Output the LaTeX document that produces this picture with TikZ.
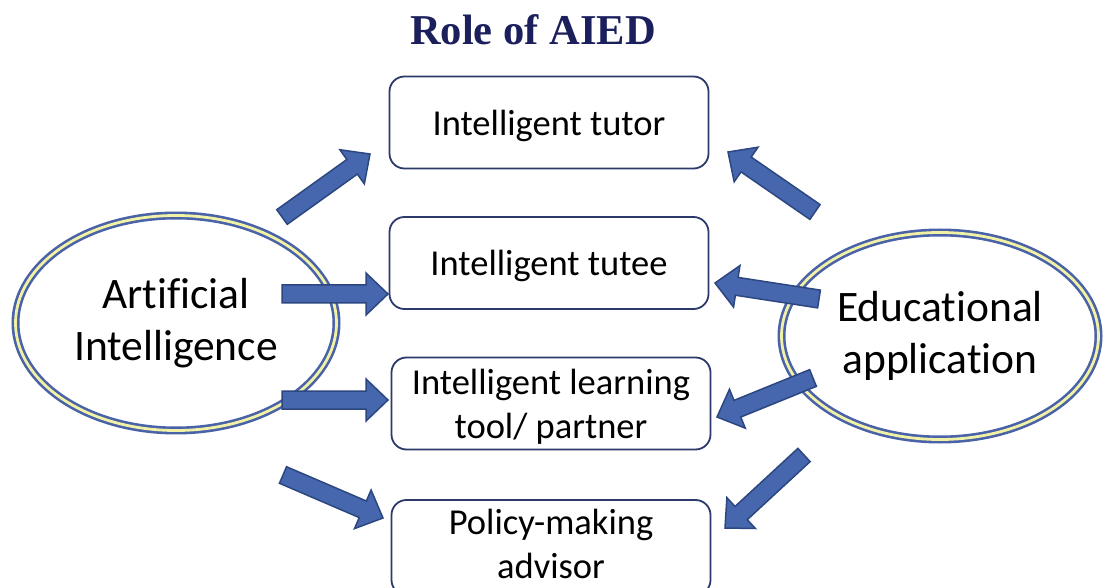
\documentclass[tikz,border=0pt]{standalone}
\usepackage{fontspec}
\setmainfont{Carlito}[Ligatures=NoCommon]
\newfontfamily\titlefont{Liberation Serif}
\usetikzlibrary{shapes.geometric,calc}
\definecolor{arrowfill}{HTML}{4666AE}
\definecolor{arrowline}{HTML}{2C4780}
\definecolor{boxline}{HTML}{2B3A6B}
\definecolor{ellblue}{HTML}{4A62A8}
\definecolor{ellyellow}{HTML}{F2F2A6}
\definecolor{titlecol}{HTML}{1B1F5C}
\tikzset{
  rolebox/.style={draw=boxline, line width=1.8pt, rounded corners=15pt, fill=white,
    minimum width=319pt, minimum height=92pt, inner sep=0pt, align=center,
    text depth=0pt, font=\fontsize{36.5}{44}\selectfont},
  fieldell/.style={ellipse, draw=ellblue, double=ellyellow, line width=2.6pt,
    double distance=2.8pt, inner sep=0pt, align=center,
    font=\fontsize{43.5}{52}\selectfont},
  barrow/.style={fill=arrowfill, draw=arrowline, line width=1.5pt, line join=miter},
}
\newcommand\blockarrow[2]{%
  \coordinate (ba-b) at ($(#2)!22pt!(#1)$);
  \draw[barrow] ($(#1)!9pt!90:(#2)$) -- ($(ba-b)!9pt!90:(#2)$) -- ($(ba-b)!21pt!90:(#2)$) -- (#2)
    -- ($(ba-b)!21pt!-90:(#2)$) -- ($(ba-b)!9pt!-90:(#2)$) -- ($(#1)!9pt!-90:(#2)$) -- cycle;}
\begin{document}
\begin{tikzpicture}[x=1pt,y=-1pt]
\clip (0,0) rectangle (1104,588);
\fill[white] (0,0) rectangle (1104,588);
\node[font=\titlefont\bfseries\fontsize{42.5}{50}\selectfont, text=titlecol] (title) at (533,30) {Role of AIED};
\node[fieldell, minimum width=321pt, minimum height=215pt] (ai) at (176,323) {Artificial\\Intelligence};
\node[fieldell, minimum width=317pt, minimum height=207pt] (ea) at (940,336) {Educational\\application};
\node[rolebox] (tutor) at (549,122.5) {Intelligent tutor};
\node[rolebox] (tutee) at (549,263) {Intelligent tutee};
\node[rolebox] (learn) at (551,403.5) {Intelligent learning\\tool/ partner};
\node[rolebox, minimum height=95pt, text depth=7pt] (policy) at (551,547.5) {Policy-making\\advisor};
% arrow end points
\coordinate (a1s) at (282,217); \coordinate (a1e) at (370,154);
\coordinate (a2s) at (282,294); \coordinate (a2e) at (388,294);
\coordinate (a3s) at (282,400); \coordinate (a3e) at (388,400);
\coordinate (a4s) at (283,475); \coordinate (a4e) at (383,518);
\coordinate (b1s) at (815,212); \coordinate (b1e) at (728,152);
\coordinate (b2s) at (819,299); \coordinate (b2e) at (715,283);
\coordinate (b3s) at (813,378); \coordinate (b3e) at (717,417);
\coordinate (b4s) at (804,455); \coordinate (b4e) at (725,528);
\blockarrow{a1s}{a1e}
\blockarrow{a2s}{a2e}
\blockarrow{a3s}{a3e}
\blockarrow{a4s}{a4e}
\blockarrow{b1s}{b1e}
\blockarrow{b2s}{b2e}
\blockarrow{b3s}{b3e}
\blockarrow{b4s}{b4e}
\end{tikzpicture}
\end{document}
